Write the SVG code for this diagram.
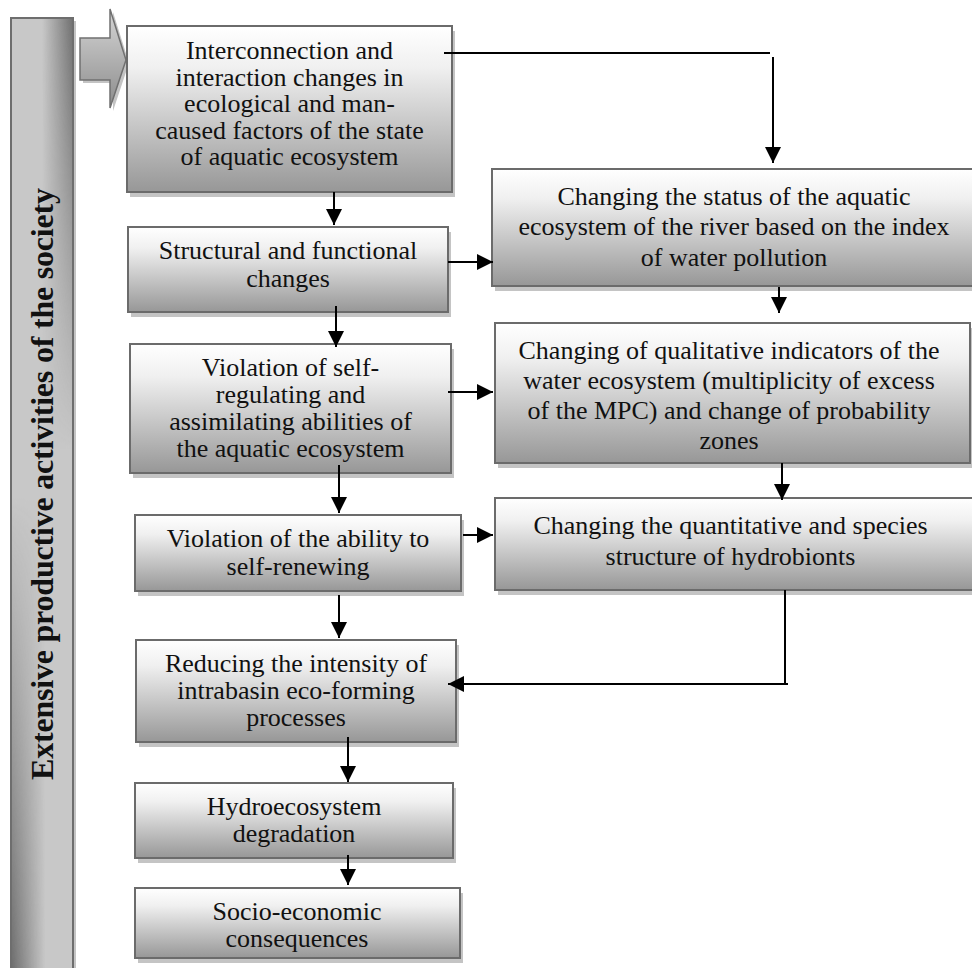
<svg xmlns="http://www.w3.org/2000/svg" width="972" height="968" viewBox="0 0 972 968">
<style>
.box{fill:url(#boxGrad);stroke:#6b6b6b;stroke-width:2}
.shadow{fill:#c4c4c4}
.t{font-family:"Liberation Serif","Times New Roman",serif;font-size:26px;fill:#111;text-anchor:middle}
.bt{font-family:"Liberation Serif","Times New Roman",serif;font-size:32px;font-weight:bold;fill:#111;text-anchor:middle}
.conn{stroke:#000;stroke-width:2;fill:none}
.arr{marker-end:url(#ah)}
</style>
<defs>
<linearGradient id="boxGrad" x1="0" y1="0" x2="0" y2="1">
<stop offset="0" stop-color="#ffffff"/>
<stop offset="0.25" stop-color="#f0f0f0"/>
<stop offset="1" stop-color="#979797"/>
</linearGradient>
<linearGradient id="arrGrad" x1="0" y1="0" x2="0" y2="1">
<stop offset="0" stop-color="#d6d6d6"/>
<stop offset="1" stop-color="#8c8c8c"/>
</linearGradient>
<linearGradient id="barRight" x1="0" y1="0" x2="1" y2="0">
<stop offset="0.5" stop-color="#606060" stop-opacity="0"/>
<stop offset="1" stop-color="#606060" stop-opacity="0.85"/>
</linearGradient>
<linearGradient id="barLeft" x1="0" y1="0" x2="1" y2="0">
<stop offset="0" stop-color="#5a5a5a" stop-opacity="0.85"/>
<stop offset="0.55" stop-color="#5a5a5a" stop-opacity="0"/>
</linearGradient>
<linearGradient id="fadeTop" x1="0" y1="0" x2="0" y2="1">
<stop offset="0" stop-color="#fff"/>
<stop offset="0.45" stop-color="#000"/>
</linearGradient>
<linearGradient id="fadeBottom" x1="0" y1="0" x2="0" y2="1">
<stop offset="0.5" stop-color="#000"/>
<stop offset="1" stop-color="#fff"/>
</linearGradient>
<mask id="mTop" maskUnits="userSpaceOnUse" x="0" y="0" width="100" height="980">
<rect x="0" y="18" width="100" height="960" fill="url(#fadeTop)"/>
</mask>
<mask id="mBottom" maskUnits="userSpaceOnUse" x="0" y="0" width="100" height="980">
<rect x="0" y="18" width="100" height="960" fill="url(#fadeBottom)"/>
</mask>
<marker id="ah" markerUnits="userSpaceOnUse" viewBox="0 0 16 16" refX="16" refY="8" markerWidth="16" markerHeight="16" orient="auto">
<path d="M0,0 L16,8 L0,16 z" fill="#000"/>
</marker>
</defs>

<rect width="972" height="968" fill="#fff"/>

<g id="bar">
<rect x="14" y="21" width="62" height="960" class="shadow"/>
<rect x="11" y="18" width="62" height="960" fill="#c8c8c8"/>
<rect x="11" y="18" width="62" height="960" fill="url(#barRight)" mask="url(#mTop)"/>
<rect x="11" y="18" width="62" height="960" fill="url(#barLeft)" mask="url(#mBottom)"/>
<rect x="11" y="18" width="62" height="960" fill="none" stroke="#6e6e6e" stroke-width="2"/>
<text class="bt" transform="translate(53,484) rotate(-90)" x="0" y="0" textLength="592">Extensive productive activities of the society</text>
</g>

<g id="bigArrow">
<polygon points="83,41 113,41 113,12 129,63 113,111 113,83 83,83" fill="#c4c4c4"/>
<polygon points="80,38 110,38 110,9 126,60 110,108 110,80 80,80" fill="url(#arrGrad)" stroke="#707070" stroke-width="1.5"/>
</g>

<g id="n1">
<rect class="shadow" x="130" y="31" width="325" height="166"/>
<rect class="box" x="127" y="26" width="325" height="166"/>
<text class="t"><tspan x="289.5" y="59">Interconnection and</tspan><tspan x="289.5" y="85.5">interaction changes in</tspan><tspan x="289.5" y="112">ecological and man-</tspan><tspan x="289.5" y="138.5">caused factors of the state</tspan><tspan x="289.5" y="165">of aquatic ecosystem</tspan></text>
</g>

<g id="n2">
<rect class="shadow" x="131" y="232" width="320" height="85"/>
<rect class="box" x="128" y="227" width="320" height="85"/>
<text class="t"><tspan x="288" y="259">Structural and functional</tspan><tspan x="288" y="287">changes</tspan></text>
</g>

<g id="n3">
<rect class="shadow" x="133" y="349" width="321" height="129"/>
<rect class="box" x="130" y="344" width="321" height="129"/>
<text class="t"><tspan x="290.5" y="376">Violation of self-</tspan><tspan x="290.5" y="403">regulating and</tspan><tspan x="290.5" y="430">assimilating abilities of</tspan><tspan x="290.5" y="457">the aquatic ecosystem</tspan></text>
</g>

<g id="n4">
<rect class="shadow" x="138" y="520" width="326" height="76"/>
<rect class="box" x="135" y="515" width="326" height="76"/>
<text class="t"><tspan x="298" y="547">Violation of the ability to</tspan><tspan x="298" y="575">self-renewing</tspan></text>
</g>

<g id="n5">
<rect class="shadow" x="139" y="645" width="320" height="102"/>
<rect class="box" x="136" y="640" width="320" height="102"/>
<text class="t"><tspan x="296" y="672">Reducing the intensity of</tspan><tspan x="296" y="699">intrabasin eco-forming</tspan><tspan x="296" y="726">processes</tspan></text>
</g>

<g id="n6">
<rect class="shadow" x="138" y="788" width="318" height="75"/>
<rect class="box" x="135" y="783" width="318" height="75"/>
<text class="t"><tspan x="294" y="815">Hydroecosystem</tspan><tspan x="294" y="842">degradation</tspan></text>
</g>

<g id="n7">
<rect class="shadow" x="138" y="893" width="325" height="70"/>
<rect class="box" x="135" y="888" width="325" height="70"/>
<text class="t"><tspan x="297" y="920">Socio-economic</tspan><tspan x="297" y="947">consequences</tspan></text>
</g>

<g id="r1">
<rect class="shadow" x="495" y="174" width="490" height="117"/>
<rect class="box" x="492" y="169" width="490" height="117"/>
<text class="t"><tspan x="734" y="205">Changing the status of the aquatic</tspan><tspan x="734" y="235">ecosystem of the river based on the index</tspan><tspan x="734" y="266">of water pollution</tspan></text>
</g>

<g id="r2">
<rect class="shadow" x="498" y="328" width="475" height="140"/>
<rect class="box" x="495" y="323" width="475" height="140"/>
<text class="t"><tspan x="729" y="359">Changing of qualitative indicators of the</tspan><tspan x="729" y="389">water ecosystem (multiplicity of excess</tspan><tspan x="729" y="419">of the MPC) and change of probability</tspan><tspan x="729" y="449">zones</tspan></text>
</g>

<g id="r3">
<rect class="shadow" x="498" y="503" width="490" height="92"/>
<rect class="box" x="495" y="498" width="490" height="92"/>
<text class="t"><tspan x="730.5" y="534">Changing the quantitative and species</tspan><tspan x="730.5" y="565">structure of hydrobionts</tspan></text>
</g>

<g id="connectors">
<path class="conn" d="M444,53 H770"/>
<path class="conn arr" d="M773,57 V163"/>
<path class="conn arr" d="M334,192 V225"/>
<path class="conn arr" d="M448,262 H493"/>
<path class="conn arr" d="M336,306 V347"/>
<path class="conn arr" d="M448,392 H493"/>
<path class="conn arr" d="M779,287 V313"/>
<path class="conn arr" d="M339,465 V513"/>
<path class="conn arr" d="M782,463 V500"/>
<path class="conn arr" d="M463,535 H493"/>
<path class="conn arr" d="M339,595 V638"/>
<path class="conn arr" d="M785,590 V684 H448"/>
<path class="conn" d="M785,684 H788"/>
<path class="conn arr" d="M348,737 V782"/>
<path class="conn arr" d="M348,855 V885"/>
</g>
</svg>
